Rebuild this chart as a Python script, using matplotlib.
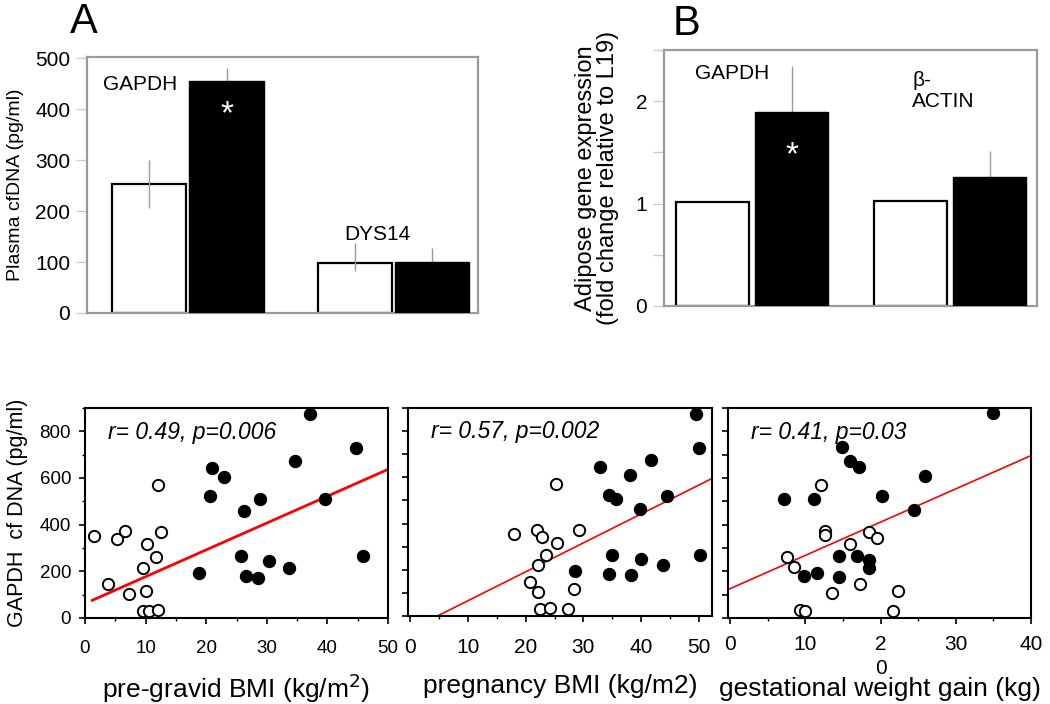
import matplotlib
matplotlib.use("Agg")
import matplotlib.pyplot as plt
import numpy as np
from matplotlib.ticker import MultipleLocator, FixedLocator

plt.rcParams['font.family'] = ['Liberation Sans', 'DejaVu Sans']

# ---------------- Panel A data ----------------
a_genes = ['GAPDH', 'DYS14']
a_white = [253, 98]
a_white_err_lo = [47, 15]
a_white_err_hi = [47, 40]
a_black = [455, 100]
a_black_err = [25, 27]
a_yticks = [0, 100, 200, 300, 400, 500]

# ---------------- Panel B data ----------------
b_genes = ['GAPDH', 'β-\nACTIN']
b_white = [1.02, 1.03]
b_black = [1.89, 1.26]
b_black_err = [0.45, 0.25]
b_yticks = [0, 1, 2]

# ---------------- Scatter 1: pre-gravid BMI ----------------
s1_open_x = [1.5, 3.8, 5.2, 6.6, 7.3, 9.6, 10.1, 9.6, 10.5, 10.3, 11.7, 12.1, 12.5, 12.1]
s1_open_y = [353, 145, 340, 371, 105, 216, 115, 30, 30, 317, 260, 569, 367, 34]
s1_fill_x = [18.8, 20.6, 21.0, 22.9, 25.7, 26.3, 26.5, 28.6, 28.9, 30.3, 33.7, 34.6, 37.1, 39.6, 44.7, 45.9]
s1_fill_y = [194, 522, 644, 605, 264, 460, 179, 173, 508, 245, 216, 672, 873, 508, 728, 264]
s1_fit = (11.5, 62.0)       # slope, intercept
s1_fit_x = [1.2, 50.0]
s1_text = 'r= 0.49, p=0.006'

# ---------------- Scatter 2: pregnancy BMI ----------------
s2_open_x = [17.9, 22.0, 22.8, 25.5, 29.3, 25.3, 23.5, 22.2, 20.7, 22.2, 28.3, 22.5, 24.2, 27.3]
s2_open_y = [356, 374, 340, 316, 370, 572, 263, 219, 145, 106, 115, 30, 35, 30]
s2_fill_x = [28.6, 32.9, 34.4, 35.7, 34.9, 34.4, 38.0, 38.3, 39.9, 40.0, 41.8, 43.8, 44.5, 49.6, 50.0, 50.2]
s2_fill_y = [196, 646, 522, 508, 266, 181, 608, 176, 462, 247, 675, 219, 520, 875, 729, 266]
s2_fit = (12.5, -58.7)
s2_fit_x = [4.7, 52.3]
s2_text = 'r= 0.57, p=0.002'

# ---------------- Scatter 3: gestational weight gain ----------------
s3_open_x = [7.6, 8.5, 9.3, 9.9, 12.1, 12.6, 12.6, 13.5, 15.9, 17.2, 18.5, 19.5, 21.7, 22.3]
s3_open_y = [262, 218, 34, 32, 572, 374, 354, 107, 317, 146, 370, 341, 32, 116]
s3_fill_x = [7.1, 11.2, 9.8, 11.6, 14.5, 14.5, 14.9, 15.9, 16.9, 17.1, 18.5, 18.5, 20.2, 24.5, 25.9, 34.9]
s3_fill_y = [510, 510, 179, 193, 265, 175, 732, 674, 265, 646, 249, 216, 524, 464, 609, 878]
s3_fit = (14.25, 126.0)
s3_fit_x = [-0.3, 40.0]
s3_text = 'r= 0.41, p=0.03'
s3_xticks = [0, 10, 20, 30, 40]
s3_xticklabels = ['0', '10', '2\n0', '30', '40']

fig = plt.figure(figsize=(10.5, 7.04), dpi=100)

GRAY = '#9a9a9a'
W = 1050.0
H = 704.0


def rect(x0, y0, x1, y1):
    return [x0 / W, 1 - y1 / H, (x1 - x0) / W, (y1 - y0) / H]


def style_bar_axes(ax):
    for s in ax.spines.values():
        s.set_color(GRAY)
        s.set_linewidth(1.6)
    ax.tick_params(axis='x', bottom=False, labelbottom=False)
    ax.tick_params(axis='y', direction='out', length=8, width=1, color='#cccccc',
                   labelsize=15, pad=4)


# ---------------- Panel A ----------------
axA = fig.add_axes(rect(87, 57, 478, 313))
g = np.arange(len(a_genes))
bw, off = 0.36, 0.188
axA.bar(g - off, a_white, bw, color='white', edgecolor='black', linewidth=1.6, zorder=1)
axA.errorbar(g - off, a_white, yerr=[a_white_err_lo, a_white_err_hi], fmt='none',
             ecolor=GRAY, elinewidth=1, capsize=0, zorder=2)
axA.errorbar(g + off, a_black, yerr=a_black_err, fmt='none',
             ecolor=GRAY, elinewidth=1, capsize=0, zorder=2)
axA.bar(g + off, a_black, bw, color='black', edgecolor='black', linewidth=1, zorder=3)
axA.set_xlim(-0.49, 1.41)
axA.set_ylim(0, 502)
axA.set_yticks(a_yticks)
style_bar_axes(axA)
axA.set_ylabel('Plasma cfDNA (pg/ml)', fontsize=14, labelpad=8)
axA.text(-0.23, 448, a_genes[0], fontsize=15, ha='center', va='center')
axA.text(0.92, 153, a_genes[1], fontsize=15, ha='center', va='center')
axA.text(off, 388, '*', color='white', fontsize=24, ha='center', va='center', zorder=5)
fig.text(84 / W, 1 - 22 / H, 'A', fontsize=30, ha='center', va='center')

# ---------------- Panel B ----------------
axB = fig.add_axes(rect(664, 50, 1037, 306))
g = np.arange(len(b_genes))
bw2, off2 = 0.369, 0.2
axB.bar(g - off2, b_white, bw2, color='white', edgecolor='black', linewidth=1.6, zorder=1)
axB.errorbar(g + off2, b_black, yerr=[[0, 0], b_black_err], fmt='none',
             ecolor=GRAY, elinewidth=1, capsize=0, zorder=2)
axB.bar(g + off2, b_black, bw2, color='black', edgecolor='black', linewidth=1, zorder=3)
axB.set_xlim(-0.444, 1.439)
axB.set_ylim(0, 2.5)
axB.set_yticks(b_yticks)
axB.yaxis.set_minor_locator(FixedLocator([0.5, 1.5, 2.5]))
style_bar_axes(axB)
axB.tick_params(axis='y', which='minor', direction='out', length=8, width=1, color='#cccccc')
axB.set_ylabel('Adipose gene expression\n(fold change relative to L19)', fontsize=17,
               labelpad=12, linespacing=1.0)
axB.text(-0.1, 2.27, b_genes[0], fontsize=15, ha='center', va='center')
axB.text(0.81, 2.1, b_genes[1], fontsize=15, ha='left', va='center', linespacing=1.1)
axB.text(off2, 1.47, '*', color='white', fontsize=24, ha='center', va='center', zorder=5)
fig.text(686 / W, 1 - 24 / H, 'B', fontsize=30, ha='center', va='center')


# ---------------- Scatter panels ----------------
def scatter_panel(ax, ox, oy, fx, fy, fit, fit_x, txt, fit_lw):
    ax.scatter(ox, oy, s=66, facecolor='white', edgecolor='black', linewidths=1.4, zorder=3)
    ax.scatter(fx, fy, s=74, facecolor='black', edgecolor='black', linewidths=1, zorder=3)
    xx = np.array(fit_x)
    ax.plot(xx, fit[0] * xx + fit[1], color='red', lw=fit_lw, zorder=2, clip_on=True)
    ax.set_ylim(0, 900)
    ax.yaxis.set_major_locator(MultipleLocator(200))
    ax.yaxis.set_minor_locator(MultipleLocator(100))
    for s in ax.spines.values():
        s.set_color('black')
        s.set_linewidth(1.5)
    ax.tick_params(which='major', direction='out', length=4, width=1.2)
    ax.tick_params(which='minor', direction='out', length=2.5, width=1)
    ax.text(0.075, 0.885, txt, transform=ax.transAxes, fontsize=16.5, style='italic',
            ha='left', va='center')


ax1 = fig.add_axes(rect(85, 408, 388, 618))
scatter_panel(ax1, s1_open_x, s1_open_y, s1_fill_x, s1_fill_y, s1_fit, s1_fit_x, s1_text, 2)
ax1.set_xlim(0, 50)
ax1.xaxis.set_major_locator(MultipleLocator(10))
ax1.xaxis.set_minor_locator(MultipleLocator(5))
ax1.tick_params(axis='y', labelsize=13.5, pad=6)
ax1.tick_params(axis='x', labelsize=13.5, pad=12)
ax1.set_xlabel('pre-gravid BMI (kg/m$^2$)', fontsize=19, labelpad=10)
ax1.set_ylabel('GAPDH  cf DNA (pg/ml)', fontsize=15.5, labelpad=8)

ax2 = fig.add_axes(rect(408, 408, 712, 616))
scatter_panel(ax2, s2_open_x, s2_open_y, s2_fill_x, s2_fill_y, s2_fit, s2_fit_x, s2_text, 1.2)
ax2.set_xlim(-0.4, 52.3)
ax2.xaxis.set_major_locator(MultipleLocator(10))
ax2.xaxis.set_minor_locator(MultipleLocator(5))
ax2.yaxis.set_major_locator(MultipleLocator(100))
ax2.tick_params(axis='y', labelleft=False)
ax2.tick_params(axis='x', labelsize=15, pad=12)
ax2.set_xlabel('pregnancy BMI (kg/m2)', fontsize=19, labelpad=12)

ax3 = fig.add_axes(rect(728, 408, 1031, 618))
scatter_panel(ax3, s3_open_x, s3_open_y, s3_fill_x, s3_fill_y, s3_fit, s3_fit_x, s3_text, 1.2)
ax3.set_xlim(-0.3, 40)
ax3.set_xticks(s3_xticks)
ax3.set_xticklabels(s3_xticklabels, linespacing=1.35)
ax3.xaxis.set_minor_locator(MultipleLocator(5))
ax3.yaxis.set_major_locator(MultipleLocator(100))
ax3.tick_params(axis='y', labelleft=False)
ax3.tick_params(axis='x', labelsize=15, pad=8)
ax3.set_xlabel('gestational weight gain (kg)', fontsize=19, labelpad=-1)

fig.savefig('out.png', dpi=100, facecolor='white')
